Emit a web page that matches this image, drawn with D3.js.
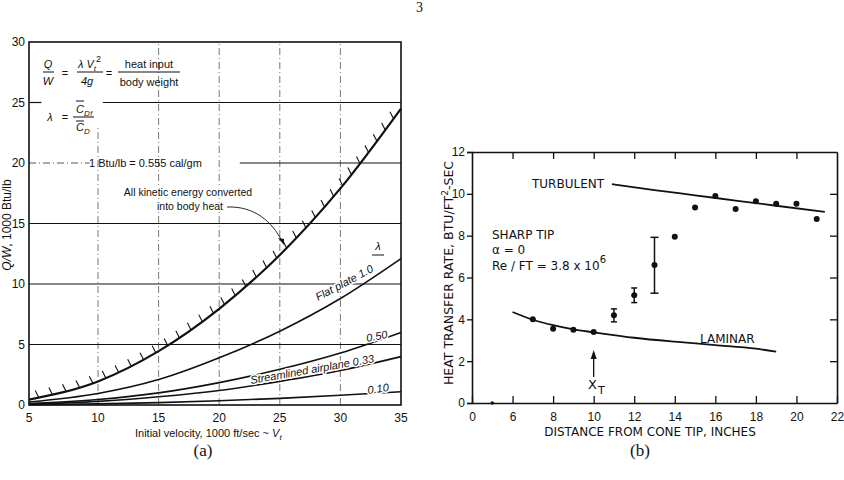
<!DOCTYPE html>
<html>
<head>
<meta charset="utf-8">
<script src="https://cdn.jsdelivr.net/npm/d3@7"></script>
<style>
  body { margin: 0; background: #fff; }
  text { fill: #111; }
</style>
</head>
<body>
<div id="chart"></div>
<script>
// ---------- panel (a) data : Q/W vs initial velocity ----------
const velocity   = [5, 10, 15, 20, 25, 30, 35];
const keAll      = [0.45, 1.95, 4.45, 7.95, 12.4, 17.9, 24.5]; // all kinetic energy -> heat
const flatPlate  = [0.25, 0.95, 2.1, 3.9, 6.1, 8.8, 12.1];   // lambda 1.0
const lam050     = [0.12, 0.45, 1.0, 1.85, 2.95, 4.3, 6.0];
const lam033     = [0.08, 0.3, 0.68, 1.2, 1.95, 2.85, 4.0];
const lam010     = [0.02, 0.09, 0.2, 0.35, 0.55, 0.8, 1.1];
const xTicksA    = [5, 10, 15, 20, 25, 30, 35];
const yTicksA    = [0, 5, 10, 15, 20, 25, 30];

// ---------- panel (b) data : heat transfer vs distance ----------
const distance   = [5, 7, 8, 9, 10, 11, 12, 13, 14, 15, 16, 17, 18, 19, 20, 21];
const heatRate   = [0.0, 4.0, 3.55, 3.5, 3.4, 4.2, 5.15, 6.6, 7.95, 9.35, 9.9, 9.28, 9.65, 9.52, 9.52, 8.8];
const errDist    = [11, 12, 13];
const errLow     = [3.88, 4.8, 5.25];
const errHigh    = [4.5, 5.5, 7.92];
const laminarX   = [6, 7, 8, 9, 10, 12, 14, 16, 18, 19];
const laminarY   = [4.35, 3.98, 3.72, 3.52, 3.38, 3.12, 2.93, 2.77, 2.6, 2.45];
const turbX      = [10.9, 13, 15, 17, 19, 21.4];
const turbY      = [10.46, 10.18, 9.93, 9.68, 9.43, 9.14];
const xTicksB    = [4, 6, 8, 10, 12, 14, 16, 18, 20, 22];
const xTickLabB  = ["0", "6", "8", "10", "12", "14", "16", "18", "20", "22"];
const yTicksB    = [0, 2, 4, 6, 8, 10, 12];

const svg = d3.select("#chart").append("svg")
  .attr("width", 844).attr("height", 480)
  .style("font-family", "'Liberation Sans', Arial, sans-serif");

// page number
svg.append("text").attr("x", 416).attr("y", 12)
  .style("font-family", "'Liberation Serif', serif").style("font-size", "14px")
  .text("3");

// =====================  panel (a)  =====================
{
  const x = d3.scaleLinear().domain([5, 10, 35]).range([29, 98, 401]);
  const y = d3.scaleLinear().domain([0, 30]).range([405, 42]);
  const g = svg.append("g");
  const dash = "7,3,1,3";

  // vertical dashed grid
  [10, 15, 20, 25, 30].forEach(v => {
    g.append("line")
      .attr("x1", x(v)).attr("x2", x(v))
      .attr("y1", y(0)).attr("y2", y(v === 10 ? 23 : 30))
      .attr("stroke", "#555").attr("stroke-width", 0.8)
      .attr("stroke-dasharray", dash);
  });
  // horizontal grid
  [5, 10, 15].forEach(v => {
    g.append("line").attr("x1", x(5)).attr("x2", x(35))
      .attr("y1", y(v)).attr("y2", y(v))
      .attr("stroke", "#111").attr("stroke-width", 1.2);
  });
  g.append("line").attr("x1", x(5)).attr("x2", x(9.4))
    .attr("y1", y(20)).attr("y2", y(20))
    .attr("stroke", "#444").attr("stroke-width", 0.9).attr("stroke-dasharray", dash);
  g.append("line").attr("x1", x(21.7)).attr("x2", x(35))
    .attr("y1", y(20)).attr("y2", y(20))
    .attr("stroke", "#111").attr("stroke-width", 1.2);
  g.append("line").attr("x1", x(5)).attr("x2", x(5.9))
    .attr("y1", y(25)).attr("y2", y(25))
    .attr("stroke", "#111").attr("stroke-width", 1.2);
  g.append("line").attr("x1", x(10.4)).attr("x2", x(35))
    .attr("y1", y(25)).attr("y2", y(25))
    .attr("stroke", "#111").attr("stroke-width", 1.2);

  // frame
  g.append("rect").attr("x", x(5)).attr("y", y(30))
    .attr("width", x(35) - x(5)).attr("height", y(0) - y(30))
    .attr("fill", "none").attr("stroke", "#111").attr("stroke-width", 1.6);

  // tick labels
  g.selectAll(".yl").data(yTicksA).enter().append("text")
    .attr("x", x(5) - 4).attr("y", d => y(d)).attr("dy", "0.35em")
    .attr("text-anchor", "end").style("font-size", "12px").text(d => d);
  g.selectAll(".xl").data(xTicksA).enter().append("text")
    .attr("x", d => x(d)).attr("y", 418).attr("dy", "0.35em")
    .attr("text-anchor", "middle").style("font-size", "12px").text(d => d);

  // axis titles
  const yt = g.append("text").attr("transform", "translate(11,225) rotate(-90)")
    .attr("text-anchor", "middle").style("font-size", "12px");
  yt.append("tspan").style("font-style", "italic").text("Q/W");
  yt.append("tspan").text(", 1000 Btu/lb");
  const xt = g.append("text").attr("x", 135).attr("y", 437).style("font-size", "11px");
  xt.append("tspan").text("Initial velocity, 1000 ft/sec ~ ");
  xt.append("tspan").style("font-style", "italic").text("V");
  xt.append("tspan").attr("dy", 3).style("font-size", "8px").style("font-style", "italic").text("t");

  // curves
  const line = d3.line().x((d, i) => x(velocity[i])).y(d => y(d)).curve(d3.curveMonotoneX);
  [flatPlate, lam050, lam033, lam010].forEach(s => {
    g.append("path").attr("d", line(s)).attr("fill", "none")
      .attr("stroke", "#111").attr("stroke-width", 1.6);
  });
  const ke = g.append("path").attr("d", line(keAll)).attr("fill", "none")
    .attr("stroke", "#111").attr("stroke-width", 2.2);

  // hatching on the kinetic-energy limit curve
  const node = ke.node(), total = node.getTotalLength();
  const dx = -0.45, dy = -0.89, hl = 8;
  for (let s = 10; s < total - 4; s += 14) {
    const p = node.getPointAtLength(s);
    g.append("line").attr("x1", p.x).attr("y1", p.y)
      .attr("x2", p.x + dx * hl).attr("y2", p.y + dy * hl)
      .attr("stroke", "#111").attr("stroke-width", 1.1);
  }

  const halo = sel => sel.attr("stroke", "#fff").attr("stroke-width", 3)
    .attr("paint-order", "stroke").attr("stroke-linejoin", "round");

  // formula block
  const f = g.append("g").style("font-size", "11px");
  f.append("text").attr("x", 48).attr("y", 68).attr("text-anchor", "middle").style("font-style", "italic").text("Q");
  f.append("line").attr("x1", 43).attr("x2", 54).attr("y1", 72).attr("y2", 72).attr("stroke", "#111");
  f.append("text").attr("x", 48).attr("y", 85).attr("text-anchor", "middle").style("font-style", "italic").text("W");
  f.append("text").attr("x", 65).attr("y", 77).attr("text-anchor", "middle").text("=");
  const num = f.append("text").attr("x", 78).attr("y", 68).style("font-style", "italic");
  num.append("tspan").text("λ V");
  num.append("tspan").attr("dy", 3).style("font-size", "8px").text("t");
  num.append("tspan").attr("dy", -9).style("font-size", "9px").style("font-style", "normal").text("2");
  f.append("line").attr("x1", 77).attr("x2", 103).attr("y1", 72).attr("y2", 72).attr("stroke", "#111");
  f.append("text").attr("x", 87).attr("y", 85).attr("text-anchor", "middle").style("font-style", "italic").text("4g");
  f.append("text").attr("x", 109).attr("y", 77).attr("text-anchor", "middle").text("=");
  f.append("text").attr("x", 149).attr("y", 68).attr("text-anchor", "middle").text("heat input");
  f.append("line").attr("x1", 118).attr("x2", 180).attr("y1", 72).attr("y2", 72).attr("stroke", "#111");
  f.append("text").attr("x", 149).attr("y", 86).attr("text-anchor", "middle").text("body weight");
  f.append("text").attr("x", 50).attr("y", 121).attr("text-anchor", "middle").style("font-style", "italic").text("λ");
  f.append("text").attr("x", 65).attr("y", 121).attr("text-anchor", "middle").text("=");
  const cd = f.append("text").attr("x", 76).attr("y", 113).style("font-style", "italic");
  cd.append("tspan").text("C");
  cd.append("tspan").attr("dy", 3).style("font-size", "8px").text("D");
  cd.append("tspan").attr("dx", 0.5).style("font-size", "7px").text("f");
  f.append("line").attr("x1", 76).attr("x2", 84).attr("y1", 101).attr("y2", 101).attr("stroke", "#111");
  f.append("line").attr("x1", 73).attr("x2", 94).attr("y1", 117).attr("y2", 117).attr("stroke", "#111");
  const cd2 = f.append("text").attr("x", 76).attr("y", 131).style("font-style", "italic");
  cd2.append("tspan").text("C");
  cd2.append("tspan").attr("dy", 3).style("font-size", "8px").text("D");
  f.append("line").attr("x1", 76).attr("x2", 84).attr("y1", 121).attr("y2", 121).attr("stroke", "#111");

  g.append("text").attr("x", 89).attr("y", y(20)).attr("dy", "0.35em")
    .style("font-size", "11px").text("1 Btu/lb = 0.555 cal/gm");

  g.append("text").attr("x", 188).attr("y", 196).attr("text-anchor", "middle")
    .style("font-size", "10.5px").call(halo).text("All kinetic energy converted");
  g.append("text").attr("x", 190).attr("y", 210).attr("text-anchor", "middle")
    .style("font-size", "10.5px").call(halo).text("into body heat");
  g.append("path").attr("d", "M227,207 C255,206 272,222 282,241")
    .attr("fill", "none").attr("stroke", "#111").attr("stroke-width", 0.9);
  g.append("path").attr("d", "M284,245 L278,238 L284,239 Z").attr("fill", "#111");

  // curve labels
  g.append("text").attr("x", 378).attr("y", 250).attr("text-anchor", "middle")
    .style("font-size", "11px").style("font-style", "italic").text("λ");
  g.append("line").attr("x1", 372).attr("x2", 384).attr("y1", 255).attr("y2", 255)
    .attr("stroke", "#111").attr("stroke-width", 1);
  g.append("text").attr("transform", "translate(318,301) rotate(-28)")
    .style("font-size", "11px").style("font-style", "italic").call(halo).text("Flat plate 1.0");
  g.append("text").attr("transform", "translate(367,342) rotate(-11)")
    .style("font-size", "11px").style("font-style", "italic").call(halo).text("0.50");
  g.append("text").attr("transform", "translate(251,384) rotate(-10)")
    .style("font-size", "11px").style("font-style", "italic").call(halo).text("Streamlined airplane  0.33");
  g.append("text").attr("transform", "translate(368,394) rotate(-8)")
    .style("font-size", "11px").style("font-style", "italic").call(halo).text("0.10");
}

// =====================  panel (b)  =====================
{
  const x = d3.scaleLinear().domain([4, 22]).range([472, 837]);
  const y = d3.scaleLinear().domain([0, 12]).range([403, 152]);
  const g = svg.append("g").style("font-family", "'DejaVu Sans', sans-serif");

  g.append("g").attr("transform", `translate(${x(4)},0)`)
    .call(d3.axisLeft(y).tickValues(yTicksB).tickSize(5).tickPadding(2))
    .call(a => a.selectAll("text").style("font-size", "12px").attr("fill", "#111"));
  g.append("g").attr("transform", `translate(0,${y(0)})`)
    .call(d3.axisBottom(x).tickValues(xTicksB).tickFormat((d, i) => xTickLabB[i])
      .tickSizeInner(-7).tickSizeOuter(0).tickPadding(9))
    .call(a => a.selectAll("text").style("font-size", "12px").attr("fill", "#111"));
  g.append("g").attr("transform", `translate(0,${y(12)})`)
    .call(d3.axisTop(x).tickValues(xTicksB.slice(1, -1)).tickFormat("").tickSizeInner(-7).tickSizeOuter(0));
  g.append("g").attr("transform", `translate(${x(22)},0)`)
    .call(d3.axisRight(y).tickValues(yTicksB.slice(1, -1)).tickFormat("").tickSizeInner(-7).tickSizeOuter(0));
  g.selectAll(".domain").attr("stroke-width", 1.6).attr("stroke", "#111");
  g.selectAll(".tick line").attr("stroke-width", 1.3).attr("stroke", "#111");

  // titles
  g.append("text").attr("x", 650).attr("y", 436).attr("text-anchor", "middle")
    .style("font-size", "12px").text("DISTANCE FROM CONE TIP, INCHES");
  const yt = g.append("text").attr("transform", "translate(453,273) rotate(-90)")
    .attr("text-anchor", "middle").style("font-size", "12.5px");
  yt.append("tspan").text("HEAT TRANSFER RATE, BTU/FT");
  yt.append("tspan").attr("dy", -5).style("font-size", "9px").text("2");
  yt.append("tspan").attr("dy", 5).text("-SEC");

  // theory lines
  const lam = d3.line().x((d, i) => x(laminarX[i])).y(d => y(d)).curve(d3.curveMonotoneX);
  g.append("path").attr("d", lam(laminarY)).attr("fill", "none")
    .attr("stroke", "#111").attr("stroke-width", 1.8);
  const tur = d3.line().x((d, i) => x(turbX[i])).y(d => y(d)).curve(d3.curveMonotoneX);
  g.append("path").attr("d", tur(turbY)).attr("fill", "none")
    .attr("stroke", "#111").attr("stroke-width", 1.8);

  // error bars
  errDist.forEach((d, i) => {
    const cw = i === 2 ? 4 : 3;
    g.append("line").attr("x1", x(d)).attr("x2", x(d))
      .attr("y1", y(errLow[i])).attr("y2", y(errHigh[i])).attr("stroke", "#111").attr("stroke-width", 1.5);
    [errLow[i], errHigh[i]].forEach(v => g.append("line")
      .attr("x1", x(d) - cw).attr("x2", x(d) + cw).attr("y1", y(v)).attr("y2", y(v))
      .attr("stroke", "#111").attr("stroke-width", 1.5));
  });

  // measured points
  g.selectAll(".pt").data(distance).enter().append("circle")
    .attr("cx", d => x(d)).attr("cy", (d, i) => y(heatRate[i]))
    .attr("r", (d, i) => heatRate[i] === 0 ? 1.8 : 3).attr("fill", "#111");

  // annotations
  g.append("text").attr("x", 532).attr("y", 188).style("font-size", "12px").text("TURBULENT");
  g.append("text").attr("x", 700).attr("y", 343).style("font-size", "12px").text("LAMINAR");
  g.append("text").attr("x", 492).attr("y", 239).style("font-size", "12px").text("SHARP TIP");
  g.append("text").attr("x", 492).attr("y", 254).style("font-size", "12px").text("α = 0");
  const re = g.append("text").attr("x", 492).attr("y", 270).style("font-size", "12px");
  re.append("tspan").text("Re / FT = 3.8 x 10");
  re.append("tspan").attr("dy", -7).style("font-size", "10px").text("6");

  g.append("line").attr("x1", x(10)).attr("x2", x(10)).attr("y1", 354).attr("y2", 377)
    .attr("stroke", "#111").attr("stroke-width", 1.3);
  g.append("path").attr("d", `M${x(10)},350 L${x(10) - 3},359 L${x(10) + 3},359 Z`).attr("fill", "#111");
  const xtl = g.append("text").attr("x", 588).attr("y", 389).style("font-size", "13px");
  xtl.append("tspan").text("X");
  xtl.append("tspan").attr("dx", 1).attr("dy", 5).style("font-size", "11px").text("T");
}

// captions
svg.append("text").attr("x", 203).attr("y", 456).attr("text-anchor", "middle")
  .style("font-family", "'Liberation Serif', serif").style("font-size", "17px").text("(a)");
svg.append("text").attr("x", 640).attr("y", 456).attr("text-anchor", "middle")
  .style("font-family", "'Liberation Serif', serif").style("font-size", "17px").text("(b)");
</script>
</body>
</html>
